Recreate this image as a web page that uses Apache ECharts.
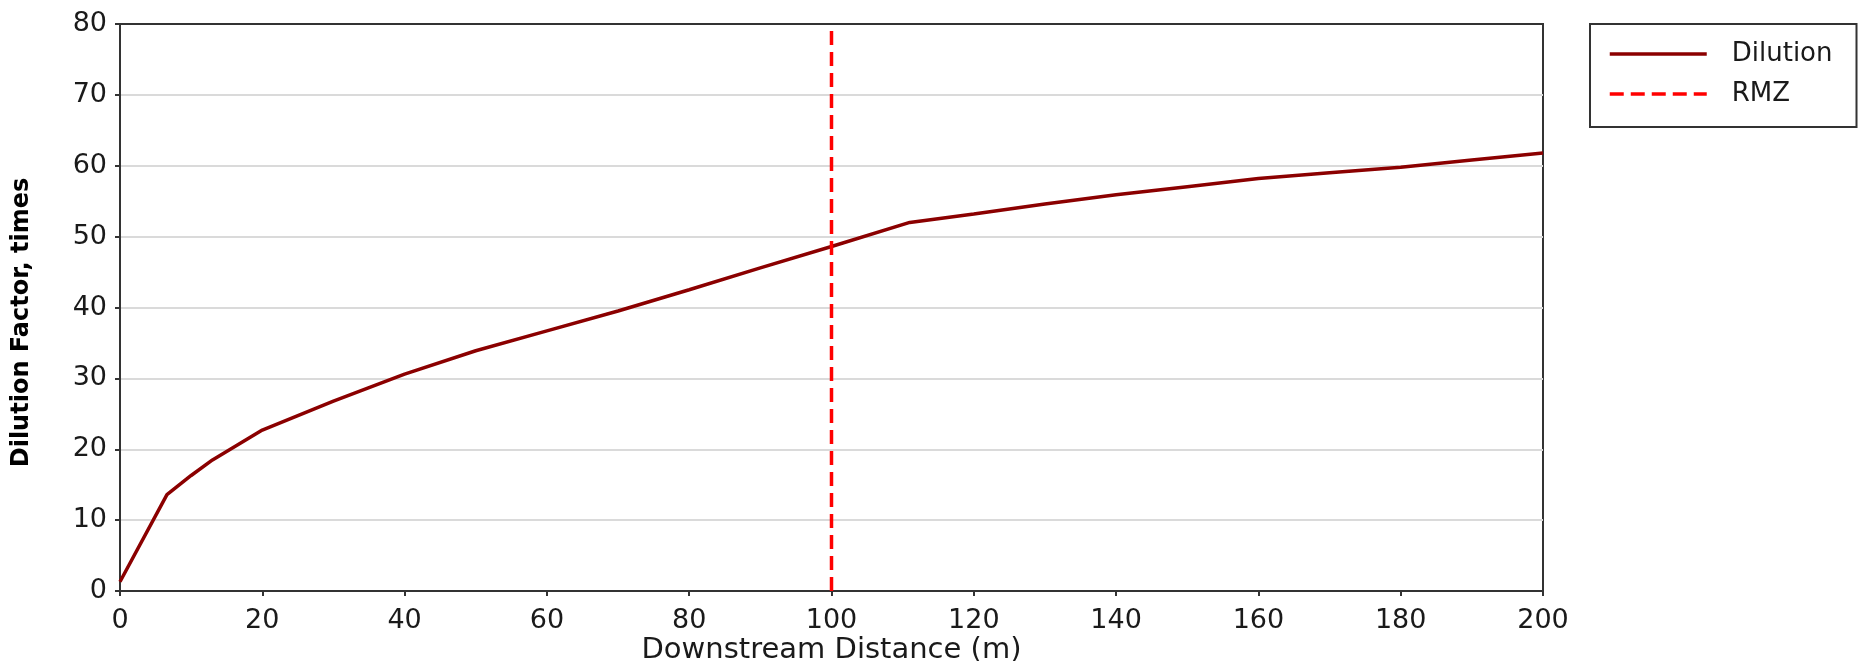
<!DOCTYPE html>
<html>
<head>
<meta charset="utf-8">
<script src="https://cdn.jsdelivr.net/npm/echarts@6/dist/echarts.min.js"></script>
<style>
  html, body { margin: 0; padding: 0; background: #ffffff; }
  #chart { width: 1865px; height: 661px; }
</style>
</head>
<body>
<div id="chart"></div>
<script>
// Data
const distance = [0, 6.6, 10, 13, 20, 30, 40, 50, 60, 70, 80, 90, 100, 111, 120, 130, 140, 150, 160, 170, 180, 190, 200];
const dilution = [1.3, 13.6, 16.3, 18.5, 22.7, 26.8, 30.6, 33.9, 36.7, 39.5, 42.5, 45.6, 48.6, 52.0, 53.2, 54.6, 55.9, 57.05, 58.2, 59.0, 59.8, 60.8, 61.8];
const rmzDistance = [100, 100];
const rmzValue = [0, 80];
const seriesNames = ['Dilution', 'RMZ'];
const xTitle = 'Downstream Distance (m)';
const yTitle = 'Dilution Factor, times';

const dilutionData = distance.map((d, i) => [d, dilution[i]]);
const rmzData = rmzDistance.map((d, i) => [d, rmzValue[i]]);

const chart = echarts.init(document.getElementById('chart'), null, { renderer: 'canvas' });
const labelFont = 'DejaVu Sans';
chart.setOption({
  animation: false,
  backgroundColor: '#ffffff',
  grid: {
    left: 120, top: 24, right: 322, bottom: 70,
    outerBoundsMode: 'none', containLabel: false,
    show: true, borderColor: '#333333', borderWidth: 2, backgroundColor: 'transparent'
  },
  legend: {
    orient: 'vertical',
    left: 1590, top: 24,
    padding: [17, 24, 20, 18],
    itemWidth: 97, itemHeight: 28, itemGap: 14,
    borderColor: '#333333', borderWidth: 2, borderRadius: 0,
    backgroundColor: '#ffffff',
    itemStyle: { opacity: 0 },
    lineStyle: { width: 3.5 },
    textStyle: { fontFamily: labelFont, fontSize: 26, color: '#1a1a1a', padding: [0, 0, 0, 20] },
    data: seriesNames
  },
  xAxis: {
    type: 'value', min: 0, max: 200, interval: 20,
    name: xTitle, nameLocation: 'middle', nameGap: 45, nameMoveOverlap: false,
    nameTextStyle: { fontFamily: labelFont, fontSize: 29, color: '#1a1a1a' },
    axisLine: { show: true, lineStyle: { color: '#333333', width: 2 } },
    axisTick: { show: true, length: 5, lineStyle: { color: '#333333', width: 2 } },
    axisLabel: { fontFamily: labelFont, fontSize: 27, color: '#1a1a1a', margin: 16 },
    splitLine: { show: false }
  },
  yAxis: {
    type: 'value', min: 0, max: 80, interval: 10,
    name: yTitle, nameLocation: 'middle', nameGap: 86,
    nameTextStyle: { fontFamily: labelFont, fontSize: 24, fontWeight: 'bold', color: '#000000', padding: [0, 30, 0, 0] },
    axisLine: { show: true, lineStyle: { color: '#333333', width: 2 } },
    axisTick: { show: true, length: 5, lineStyle: { color: '#333333', width: 2 } },
    axisLabel: { fontFamily: labelFont, fontSize: 27, color: '#1a1a1a', margin: 13 },
    splitLine: { show: true, showMinLine: false, showMaxLine: false, lineStyle: { color: '#dadada', width: 2 } }
  },
  series: [
    {
      name: seriesNames[0], type: 'line', data: dilutionData,
      symbol: 'none', smooth: false,
      lineStyle: { color: '#8b0000', width: 3.5 },
      itemStyle: { color: '#8b0000' }
    },
    {
      name: seriesNames[1], type: 'line', data: rmzData,
      symbol: 'none',
      lineStyle: { color: '#ff0000', width: 3.5, type: [14, 7] },
      itemStyle: { color: '#ff0000' }
    }
  ]
});
</script>
</body>
</html>
